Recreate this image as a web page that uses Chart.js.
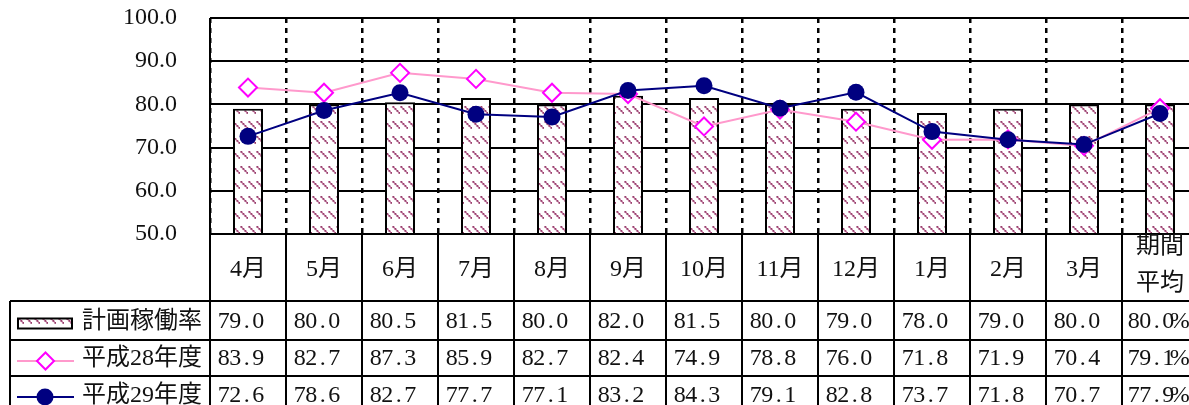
<!DOCTYPE html>
<html>
<head>
<meta charset="utf-8">
<script src="https://cdn.jsdelivr.net/npm/chart.js@4/dist/chart.umd.min.js"></script>
<style>
  html, body { margin: 0; padding: 0; overflow: hidden; background: #fff; width: 1189px; height: 405px; }
  #wrap { width: 1200px; height: 420px; position: relative; }
  canvas { display: block; }
</style>
</head>
<body>
<div id="wrap"><canvas id="c" width="1200" height="420" style="width:1200px;height:420px"></canvas></div>
<script>
// Monthly categories; the last column is the period average
const categories = ['4月', '5月', '6月', '7月', '8月', '9月', '10月', '11月', '12月', '1月', '2月', '3月', ['期間', '平均']];
const seriesNames = ['計画稼働率', '平成28年度', '平成29年度'];
const planRate = [79.0, 80.0, 80.5, 81.5, 80.0, 82.0, 81.5, 80.0, 79.0, 78.0, 79.0, 80.0, 80.0];
const fy28 = [83.9, 82.7, 87.3, 85.9, 82.7, 82.4, 74.9, 78.8, 76.0, 71.8, 71.9, 70.4, 79.1];
const fy29 = [72.6, 78.6, 82.7, 77.7, 77.1, 83.2, 84.3, 79.1, 82.8, 73.7, 71.8, 70.7, 77.9];
const yMin = 50, yMax = 100, yStep = 10;

const canvas = document.getElementById('c');
const ctx = canvas.getContext('2d');

// Dotted diagonal hatch used for the plan-rate bars
function makeHatch(target) {
  const t = document.createElement('canvas');
  t.width = 8; t.height = 15;
  const g = t.getContext('2d');
  g.fillStyle = '#fff';
  g.fillRect(0, 0, 8, 15);
  g.fillStyle = '#d898b8';
  for (let i = 0; i < 7; i++) g.fillRect(i + 0.5, i + 1, 1.5, 1.5);
  g.fillStyle = '#98406e';
  [0, 2, 4, 6].forEach(i => g.fillRect(i + 0.5, i + 1, 1.8, 1.8));
  return target.createPattern(t, 'repeat');
}
const hatch = makeHatch(ctx);

const SERIF = "'Liberation Serif', 'Noto Sans CJK JP'";
const FS = 24;
const ADV = 11.5; // fixed advance per half-width character

function drawFixed(c, text, x, y) {
  c.textAlign = 'center';
  for (let i = 0; i < text.length; i++) {
    c.fillText(text[i], x + i * ADV + ADV / 2, y);
  }
}

function diamond(c, x, y, r) {
  c.beginPath();
  c.moveTo(x - r, y); c.lineTo(x, y - r); c.lineTo(x + r, y); c.lineTo(x, y + r);
  c.closePath();
}

// Frame, data table and legend column under the plot
const tablePlugin = {
  id: 'dataTable',
  afterDraw(chart) {
    const c = chart.ctx;
    const xs = chart.scales.x;
    const area = chart.chartArea;
    const step = xs.getPixelForValue(1) - xs.getPixelForValue(0);
    const bounds = categories.map((_, i) => xs.getPixelForValue(i) - step / 2);
    bounds.push(bounds[bounds.length - 1] + step);
    const right = bounds[bounds.length - 1];
    const top = area.bottom;
    const rows = [top, top + 67, top + 106, top + 142, top + 180];
    const legendLeft = 10;

    c.save();
    c.strokeStyle = '#000';
    c.lineWidth = 2;
    c.beginPath();
    // plot frame
    c.moveTo(area.left, area.top); c.lineTo(right, area.top);
    c.moveTo(area.left, area.bottom); c.lineTo(right, area.bottom);
    c.moveTo(area.left, area.top); c.lineTo(area.left, rows[4]);
    // table rows
    for (let r = 1; r < rows.length; r++) {
      c.moveTo(legendLeft, rows[r]); c.lineTo(right, rows[r]);
    }
    // column separators
    bounds.forEach(b => { c.moveTo(b, top); c.lineTo(b, rows[4]); });
    c.moveTo(legendLeft, rows[1]); c.lineTo(legendLeft, rows[4]);
    c.stroke();

    c.fillStyle = '#111';
    c.font = FS + 'px ' + SERIF;
    c.textBaseline = 'middle';

    // header row
    categories.forEach((cat, i) => {
      const cx = xs.getPixelForValue(i);
      c.textAlign = 'center';
      if (Array.isArray(cat)) {
        c.fillText(cat[0], cx, top + 13);
        c.fillText(cat[1], cx, top + 50);
      } else {
        c.fillText(cat, cx, (rows[0] + rows[1]) / 2 + 2);
      }
    });

    // value rows
    const series = [planRate, fy28, fy29];
    series.forEach((vals, r) => {
      const cy = (rows[r + 1] + rows[r + 2]) / 2 + 1;
      vals.forEach((v, i) => {
        const last = i === vals.length - 1;
        const txt = v.toFixed(1) + (last ? '%' : '');
        drawFixed(c, txt, bounds[i] + (last ? 6 : 8), cy);
      });
      c.textAlign = 'left';
      c.fillText(seriesNames[r], 82, cy);
    });

    // legend keys
    const k1 = (rows[1] + rows[2]) / 2 + 3;
    c.fillStyle = hatch;
    c.fillRect(18, k1 - 5, 54, 10);
    c.strokeRect(18, k1 - 5, 54, 10);

    const k2 = (rows[2] + rows[3]) / 2 + 3;
    c.strokeStyle = '#FF99CC';
    c.beginPath(); c.moveTo(17, k2); c.lineTo(74, k2); c.stroke();
    diamond(c, 45.5, k2, 8.5);
    c.fillStyle = '#fff'; c.fill();
    c.strokeStyle = '#FF00FF'; c.stroke();

    const k3 = (rows[3] + rows[4]) / 2 + 2;
    c.strokeStyle = '#000080';
    c.beginPath(); c.moveTo(17, k3); c.lineTo(74, k3); c.stroke();
    c.fillStyle = '#000080';
    c.beginPath(); c.arc(45, k3, 8.5, 0, Math.PI * 2); c.fill();
    c.restore();
  }
};

new Chart(ctx, {
  type: 'bar',
  data: {
    labels: categories,
    datasets: [
      {
        type: 'line', label: seriesNames[2], data: fy29, order: 0,
        borderColor: '#000080', backgroundColor: '#000080', borderWidth: 2,
        pointStyle: 'circle', pointRadius: 8.5, pointBorderWidth: 0,
        pointBackgroundColor: '#000080', tension: 0
      },
      {
        type: 'line', label: seriesNames[1], data: fy28, order: 1,
        borderColor: '#FF99CC', borderWidth: 2,
        pointStyle: 'rectRot', pointRadius: 9, pointBorderWidth: 2,
        pointBorderColor: '#FF00FF', pointBackgroundColor: '#fff', tension: 0
      },
      {
        type: 'bar', label: seriesNames[0], data: planRate, order: 2,
        backgroundColor: hatch, borderColor: '#000', borderWidth: 2,
        borderSkipped: false, barPercentage: 30 / 76, categoryPercentage: 1
      }
    ]
  },
  options: {
    responsive: false,
    animation: false,
    events: [],
    layout: { autoPadding: false, padding: { left: 0, right: 2, top: 18, bottom: 186 } },
    plugins: { legend: { display: false }, tooltip: { enabled: false } },
    scales: {
      x: {
        offset: true,
        ticks: { display: false },
        grid: { offset: true, color: '#000', lineWidth: 2.5, drawTicks: false },
        border: { display: false, dash: [5, 5] },
        afterFit(s) { s.height = 0; s.paddingLeft = 0; s.paddingRight = 0; }
      },
      y: {
        min: yMin, max: yMax,
        ticks: {
          stepSize: yStep, padding: 33, color: '#111',
          font: { family: "'Liberation Serif'", size: 24 },
          callback: v => Number(v).toFixed(1)
        },
        grid: { color: '#000', lineWidth: 2, drawTicks: false },
        border: { display: false },
        afterFit(s) { s.width = 210; s.paddingTop = 0; s.paddingBottom = 0; }
      }
    }
  },
  plugins: [tablePlugin]
});
</script>
</body>
</html>
